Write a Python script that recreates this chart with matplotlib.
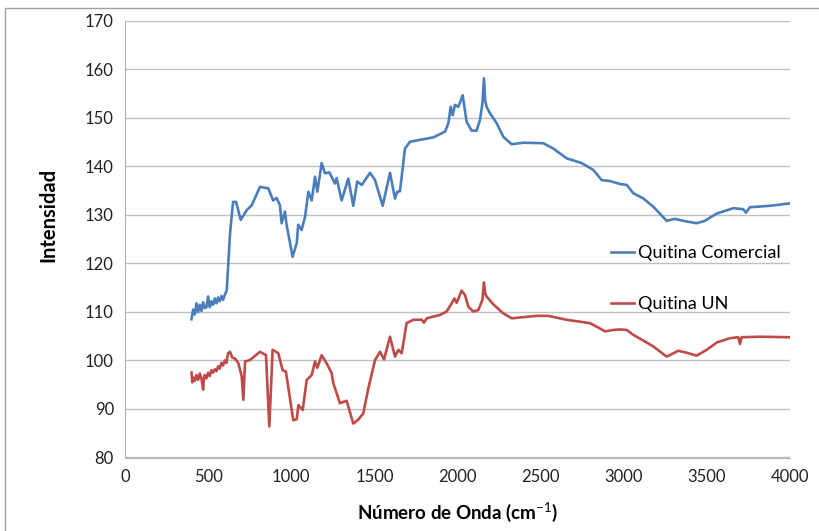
import numpy as np
import matplotlib
matplotlib.use('Agg')
import matplotlib.pyplot as plt
from matplotlib.patches import Rectangle

plt.rcParams['font.family'] = ['Lato', 'DejaVu Sans']
plt.rcParams['mathtext.fontset'] = 'custom'
plt.rcParams['mathtext.rm'] = 'Lato'
plt.rcParams['mathtext.bf'] = 'Lato:bold'

# espectro Quitina Comercial
onda_com = [400, 410, 420, 430, 440, 450, 460, 470, 480, 490, 500, 510, 520, 530, 540,
            550, 560, 570, 580, 590, 600, 612, 632, 650, 668, 696, 732, 762, 812, 862,
            891, 912, 932, 942, 962, 972, 1008, 1033, 1042, 1062, 1083, 1103, 1123, 1143,
            1157, 1183, 1203, 1229, 1263, 1273, 1303, 1343, 1373, 1397, 1424, 1474, 1504,
            1550, 1594, 1624, 1638, 1654, 1684, 1714, 1774, 1855, 1925, 1945, 1959, 1971,
            1985, 2005, 2031, 2055, 2085, 2115, 2135, 2150, 2159, 2167, 2175, 2195, 2236,
            2276, 2326, 2396, 2516, 2576, 2656, 2747, 2817, 2867, 2917, 2977, 3018, 3057,
            3118, 3178, 3258, 3308, 3358, 3438, 3488, 3559, 3659, 3719, 3735, 3759, 3880,
            4000]
int_com = [108.5, 110.5, 109.5, 111.8, 110.0, 111.5, 110.2, 112.0, 110.8, 111.0, 113.2,
           111.0, 112.2, 111.5, 112.8, 111.8, 113.0, 112.2, 113.3, 112.5, 113.5, 114.5,
           126.3, 132.7, 132.7, 129.0, 131.0, 132.0, 135.8, 135.5, 133.0, 133.5, 132.0,
           128.3, 130.7, 128.0, 121.4, 124.2, 128.0, 126.9, 129.6, 134.8, 133.0, 137.9,
           134.8, 140.7, 138.6, 138.8, 136.5, 137.6, 133.0, 137.5, 131.9, 136.9, 136.2,
           138.7, 137.2, 131.9, 138.7, 133.4, 134.8, 134.9, 143.7, 145.1, 145.5, 146.0,
           147.2, 148.9, 152.3, 150.6, 152.7, 152.3, 154.7, 149.2, 147.4, 147.4, 149.6,
           153.0, 158.2, 153.5, 152.3, 151.0, 148.9, 146.1, 144.6, 144.9, 144.8, 143.7,
           141.7, 140.7, 139.3, 137.2, 137.0, 136.4, 136.2, 134.5, 133.4, 131.7, 128.8,
           129.2, 128.8, 128.3, 128.8, 130.3, 131.4, 131.2, 130.5, 131.6, 131.9, 132.4]

# espectro Quitina UN
onda_un = [400, 405, 410, 420, 430, 440, 450, 460, 470, 475, 480, 490, 500, 510, 520,
           530, 540, 550, 560, 570, 580, 590, 600, 610, 620, 632, 645, 662, 682, 702,
           712, 722, 752, 812, 848, 868, 888, 922, 948, 968, 1012, 1033, 1043, 1069, 1093,
           1123, 1143, 1157, 1183, 1213, 1243, 1253, 1293, 1333, 1373, 1403, 1433, 1464,
           1504, 1534, 1558, 1594, 1624, 1644, 1664, 1694, 1734, 1785, 1798, 1815, 1895,
           1935, 1965, 1981, 1995, 2025, 2045, 2065, 2095, 2125, 2150, 2159, 2167, 2175,
           2215, 2276, 2326, 2476, 2546, 2656, 2797, 2857, 2887, 2937, 2977, 3018, 3057,
           3118, 3178, 3258, 3328, 3379, 3438, 3499, 3559, 3639, 3689, 3699, 3709, 3819,
           4000]
int_un = [97.5, 95.5, 96.5, 95.8, 97.0, 96.0, 97.3, 96.2, 94.0, 96.5, 97.0, 96.3, 97.5,
          96.8, 98.0, 97.5, 98.2, 97.8, 98.8, 98.3, 99.5, 99.0, 100.0, 99.5, 101.5, 101.8,
          100.6, 100.4, 99.4, 96.7, 91.9, 99.8, 100.1, 101.8, 101.1, 86.4, 102.2, 101.5,
          98.0, 97.7, 87.7, 87.9, 90.8, 89.8, 96.0, 97.0, 99.8, 98.5, 101.1, 99.4, 97.4,
          95.3, 91.2, 91.7, 87.0, 87.8, 89.1, 94.3, 100.1, 101.8, 100.2, 104.9, 100.8,
          102.2, 101.5, 107.7, 108.4, 108.4, 107.8, 108.7, 109.4, 110.1, 111.8, 112.8,
          111.9, 114.4, 113.5, 111.1, 110.1, 110.4, 112.5, 116.1, 113.8, 113.2, 111.6,
          109.7, 108.7, 109.2, 109.2, 108.4, 107.7, 106.6, 106.0, 106.3, 106.4, 106.3,
          105.3, 104.1, 102.9, 100.8, 102.0, 101.6, 101.0, 102.2, 103.7, 104.6, 104.8,
          103.4, 104.8, 104.9, 104.8]

fig = plt.figure(figsize=(8.2, 5.31), dpi=100)
ax = fig.add_axes([125 / 820, 1 - 457.5 / 531, 665 / 820, 436.5 / 531])

# marco del grafico
fig.patches.append(Rectangle((5 / 820, -0.1), 1.2, 1 - 8 / 531 + 0.1,
                             transform=fig.transFigure, fill=False,
                             edgecolor='#a0a0a0', lw=1))

ax.plot(onda_com, int_com, color='#4A7EBB', lw=1.9, label='Quitina Comercial')
ax.plot(onda_un, int_un, color='#BE4B48', lw=1.9, label='Quitina UN')

ax.set_xlim(0, 4000)
ax.set_ylim(80, 170)
ax.set_xticks(np.arange(0, 4001, 500))
ax.set_yticks(np.arange(80, 171, 10))
ax.grid(axis='y', color='#c0c0c0', lw=1)
ax.set_axisbelow(True)
for s in ['top', 'right']:
    ax.spines[s].set_visible(False)
ax.spines['left'].set_color('#b0b0b0')
ax.spines['bottom'].set_color('#b0b0b0')
ax.tick_params(length=0, labelsize=12, pad=8, colors='#222222')

ax.set_xlabel(r'Número de Onda (cm$^{-1}$)', fontsize=13.5, fontweight='bold')
ax.set_ylabel('Intensidad', fontsize=14.5, fontweight='bold')
ax.xaxis.set_label_coords(0.5, -0.097)
ax.yaxis.set_label_coords(-0.1, 0.555)

ax.legend(loc='upper left', bbox_to_anchor=(595 / 820, 1 - 229 / 531),
          bbox_transform=fig.transFigure, frameon=False, fontsize=13,
          handlelength=1.25, handletextpad=0.25, labelspacing=1.95)

fig.savefig('out.png', dpi=100)
